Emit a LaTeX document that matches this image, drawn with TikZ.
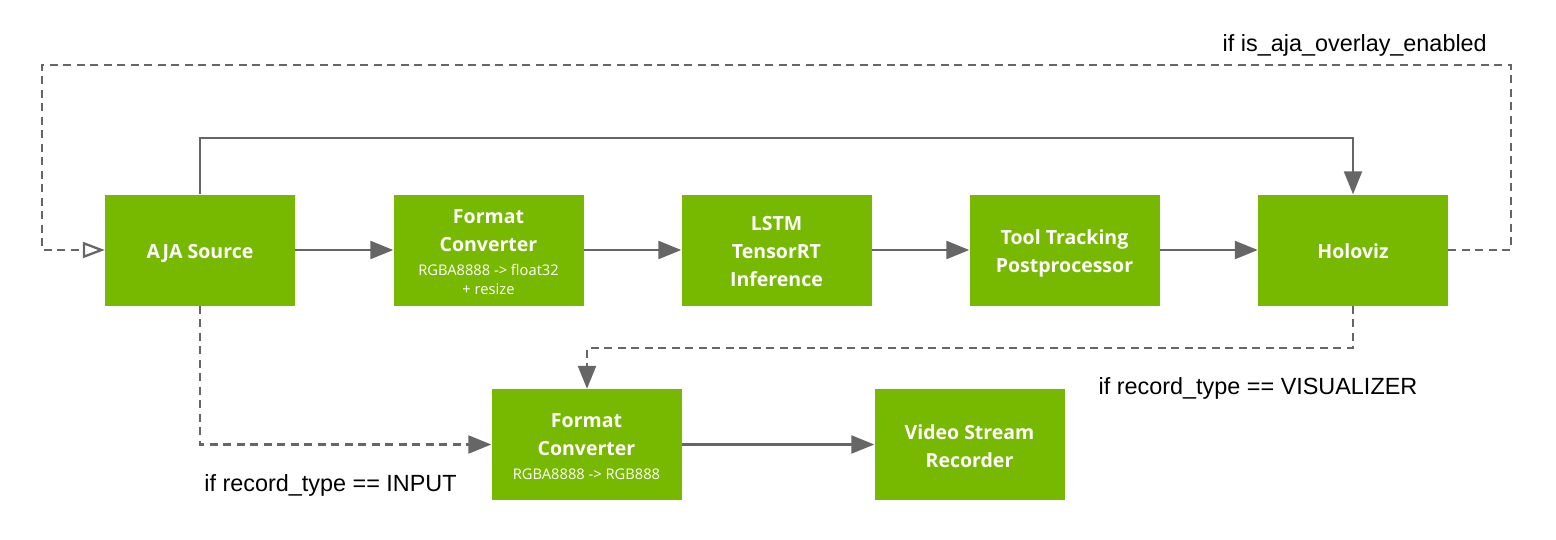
\documentclass[tikz,border=0pt]{standalone}
\usepackage{fontspec}
\setmainfont{Open Sans}
\newfontfamily\labfont{Liberation Sans}
\usetikzlibrary{arrows.meta}
\definecolor{nvgreen}{HTML}{76B900}
\definecolor{linegray}{HTML}{666666}
\newcommand{\subtxt}[1]{{\fontsize{14.7}{19}\selectfont\mdseries #1}}
\newcommand{\bt}[1]{\raisebox{-3pt}[\height][\depth]{\begin{tabular}{@{}c@{}}#1\end{tabular}}}
\begin{document}
\begin{tikzpicture}[x=1pt,y=-1pt,
  blk/.style={fill=nvgreen, draw=none, minimum width=190pt, minimum height=111pt, inner sep=0pt, text=white, font=\fontsize{19.5}{28}\selectfont\bfseries},
  conn/.style={draw=linegray, line width=2.3pt, -{Triangle[length=23pt,width=18pt]}},
  dconn/.style={conn, dash pattern=on 8pt off 5.5pt},
  lab/.style={font=\labfont\fontsize{23.4}{28}\selectfont, text=black, inner sep=0pt}
]
\useasboundingbox (0,0) rectangle (1556,539);
\node[blk] (aja) at (200,250) {\bt{AJA Source}};
\node[blk] (fc1) at (488.5,250) {\bt{Format\\Converter\\[-4pt]\subtxt{RGBA8888 -> float32}\\[-9pt]\subtxt{+ resize}}};
\node[blk] (lstm) at (776.5,250) {\bt{LSTM\\TensorRT\\Inference}};
\node[blk] (tool) at (1064.5,250) {\bt{Tool Tracking\\Postprocessor}};
\node[blk] (holo) at (1353,250) {\bt{Holoviz}};
\node[blk] (fc2) at (586.5,444.5) {\bt{Format\\Converter\\[-4pt]\subtxt{RGBA8888 -> RGB888}}};
\node[blk] (vsr) at (969.5,444.5) {\bt{Video Stream\\Recorder}};

\coordinate (t1) at (200,138);
\coordinate (t2) at (1353,138);
\coordinate (o1) at (1511,250);
\coordinate (o2) at (1511,65);
\coordinate (o3) at (42,65);
\coordinate (o4) at (42,250);
\coordinate (v1) at (1353,348);
\coordinate (v2) at (587,348);
\coordinate (i1) at (200,444.5);

\draw[conn] (aja) -- (fc1);
\draw[conn] (fc1) -- (lstm);
\draw[conn] (lstm) -- (tool);
\draw[conn] (tool) -- (holo);
\draw[conn] (fc2) -- (vsr);
\draw[conn] (aja.north) -- (t1) -- (t2) -- (holo.north);
\draw[dconn, -{Triangle[open,length=22pt,width=16pt,line width=2.3pt]}] (holo.east) -- (o1) -- (o2) -- (o3) -- (o4) -- (aja.west);
\draw[dconn] (holo.south) -- (v1) -- (v2) -- (v2 |- fc2.north);
\draw[dconn] (aja.south) -- (i1) -- (fc2.west);

\node[lab, anchor=base east] (l1) at (1487,51) {if is\_aja\_overlay\_enabled};
\node[lab, anchor=base] (l2) at (1258,394) {if record\_type == VISUALIZER};
\node[lab, anchor=base] (l3) at (330.5,491) {if record\_type == INPUT};
\end{tikzpicture}
\end{document}
